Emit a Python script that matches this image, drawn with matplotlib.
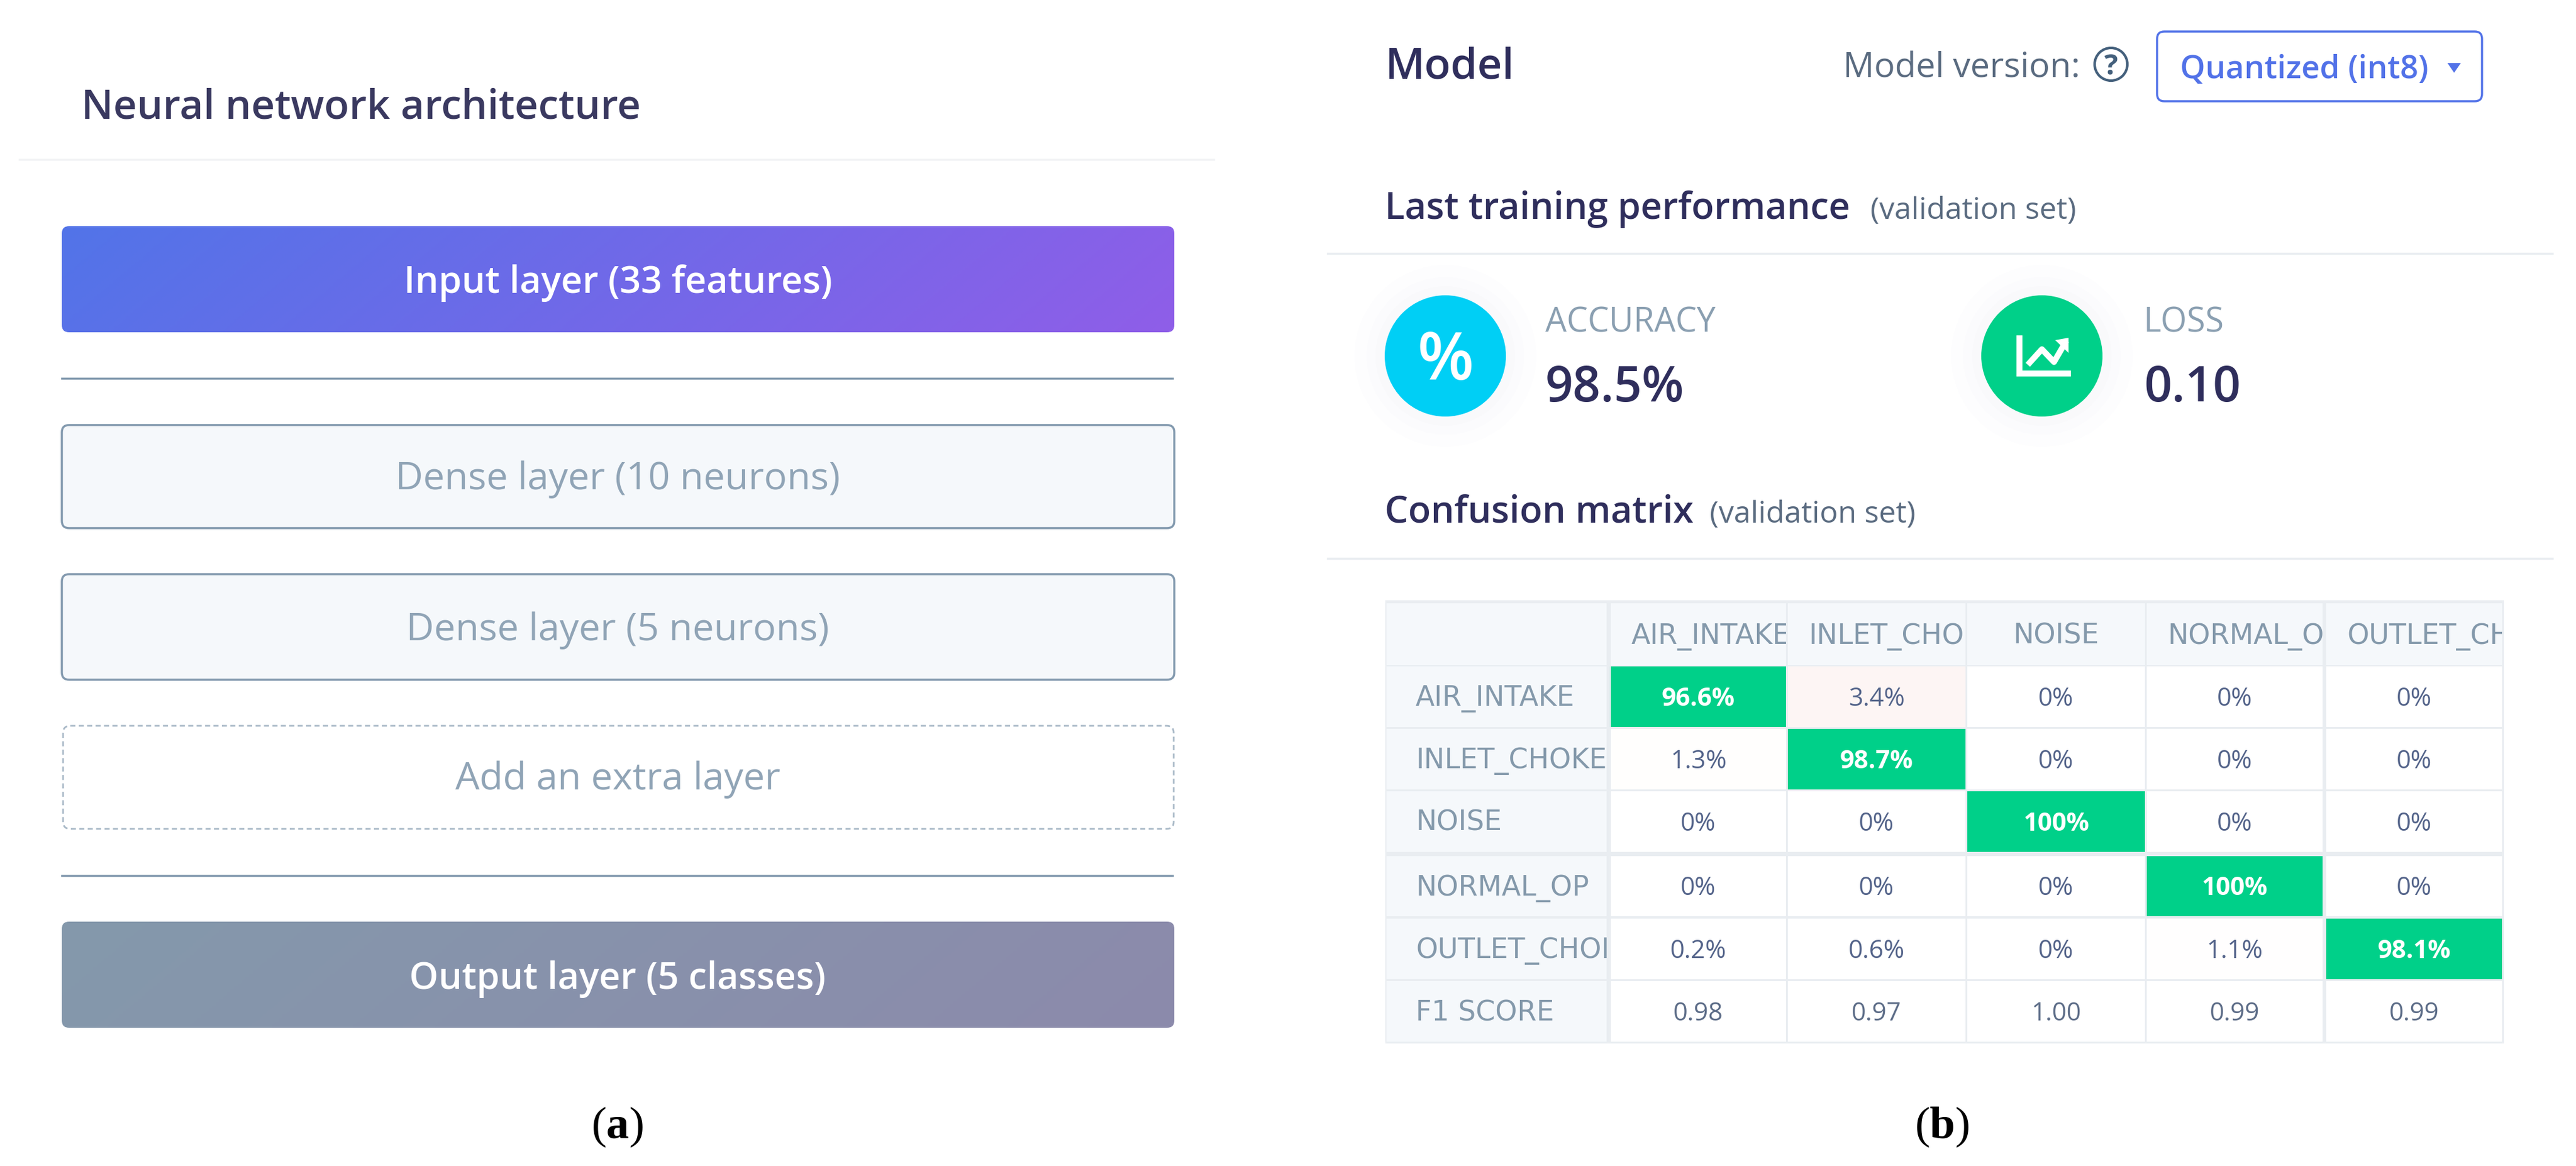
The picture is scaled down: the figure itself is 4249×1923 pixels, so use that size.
import numpy as np
import matplotlib
matplotlib.use("Agg")
import matplotlib.pyplot as plt
from matplotlib.colors import LinearSegmentedColormap
from matplotlib.patches import FancyBboxPatch, Circle, Rectangle, Polygon
from matplotlib.transforms import Bbox, TransformedBbox

# panel (a) labels
input_label = "Input layer (33 features)"
dense_labels = ["Dense layer (10 neurons)", "Dense layer (5 neurons)"]
extra_label = "Add an extra layer"
output_label = "Output layer (5 classes)"

# panel (b) metrics
accuracy = "98.5%"
loss = "0.10"

# confusion matrix
col_names = ["AIR_INTAKE", "INLET_CHOKE", "NOISE", "NORMAL_OP", "OUTLET_CHOKE"]
row_names = ["AIR_INTAKE", "INLET_CHOKE", "NOISE", "NORMAL_OP", "OUTLET_CHOKE"]
air_intake = [96.6, 3.4, 0, 0, 0]
inlet_choke = [1.3, 98.7, 0, 0, 0]
noise = [0, 0, 100, 0, 0]
normal_op = [0, 0, 0, 100, 0]
outlet_choke = [0.2, 0.6, 0, 1.1, 98.1]
f1_score = [0.98, 0.97, 1.00, 0.99, 0.99]

NAVY = "#2f2e5c"
SLATE = "#8299ae"
BLUE = "#5272e8"
GREEN = "#00d089"
GRID = "#e9edf1"
HEAD = "#f5f8fb"
SANS = "Open Sans"

plt.rcParams["font.family"] = [SANS, "DejaVu Sans"]
plt.rcParams["mathtext.fontset"] = "custom"
plt.rcParams["mathtext.rm"] = "Liberation Serif"
plt.rcParams["mathtext.bf"] = "Liberation Serif:bold"

fig = plt.figure(figsize=(42.49, 19.23), dpi=100)
ax = fig.add_axes([0, 0, 1, 1])


def box(x0, x1, y0, y1, **kw):
    p = FancyBboxPatch((x0, y0), x1 - x0, y1 - y0,
                       boxstyle="round,pad=0,rounding_size=12", **kw)
    ax.add_patch(p)
    return p


def gradient_box(x0, x1, y0, y1, c0, c1):
    p = box(x0, x1, y0, y1, fc="none", ec="none")
    xx, yy = np.meshgrid(np.linspace(0, 1, 300), np.linspace(0, 1, 60))
    cmap = LinearSegmentedColormap.from_list("g", [c0, c1])
    im = ax.imshow(xx * 0.9 + yy * 0.1, extent=(x0, x1, y1, y0), cmap=cmap,
                   vmin=0, vmax=1, aspect="auto", interpolation="bilinear")
    im.set_clip_path(p)


def label(x, y, s, size, color=NAVY, ha="left", weight="normal", **kw):
    return ax.text(x, y, s, fontsize=size, color=color, ha=ha, va="baseline",
                   weight=weight, **kw)


# ---- panel (a) ----
label(134, 195, "Neural network architecture", 48.5, weight="semibold", color="#3a3960")
ax.plot([32, 2002], [263, 263], color="#f2f3f5", lw=2.5)

gradient_box(102, 1937, 373, 548, "#5274e8", "#8f5ee8")
label(1019, 483, input_label, 44, color="white", ha="center", weight="semibold")
ax.plot([102, 1934], [624, 624], color=SLATE, lw=2.5)

for (y0, y1), base, s in zip([(701, 871), (947, 1121)], [807, 1056], dense_labels):
    box(102, 1937, y0, y1, fc=HEAD, ec=SLATE, lw=2.5)
    label(1019, base, s, 45.5, color="#90a4b6", ha="center")

box(104, 1936, 1197, 1367, fc="white", ec="#a9b9c7", lw=2, ls=(0, (3, 2)))
label(1019, 1302, extra_label, 45.5, color="#90a4b6", ha="center")
ax.plot([102, 1934], [1444, 1444], color=SLATE, lw=2.5)

gradient_box(102, 1937, 1520, 1695, "#8499ac", "#8c8aab")
label(1019, 1631, output_label, 44, color="white", ha="center", weight="semibold")

ax.text(1018, 1877, r"($\mathbf{a}$)", fontsize=54, color="black", ha="center",
        va="baseline", family="Liberation Serif")

# ---- panel (b) header ----
label(2284, 129, "Model", 51, weight="semibold")
label(3040, 127, "Model version:", 41, color="#5a6b80")
ax.add_patch(Circle((3482, 106), 27, fc="white", ec="#44607c", lw=3))
label(3482, 123, "?", 34, color="#44607c", ha="center", weight="bold")
box(3558, 4094, 52, 167, fc="white", ec=BLUE, lw=2.5)
label(3596, 129, "Quantized (int8)", 38, color=BLUE, weight="semibold")
ax.add_patch(Polygon([[4037, 104], [4059, 104], [4048, 120]], fc=BLUE, ec="none"))

label(2284, 361, "Last training performance", 44, weight="semibold")
label(3085, 361, "(validation set)", 36, color="#5a6b80")
ax.plot([2190, 4210], [418, 418], color=GRID, lw=2.5)

# metric badges, faint halo first
for cx, col in zip([2384, 3368], ["#00cff5", GREEN]):
    for r, a in zip([150, 130, 115], [0.006, 0.008, 0.012]):
        ax.add_patch(Circle((cx, 587), r, fc="#607080", ec="none", alpha=a))
    ax.add_patch(Circle((cx, 587), 100, fc=col, ec="none"))
label(2384, 626, "%", 78, color="white", ha="center", weight="semibold")

# chart glyph in the loss badge
icon_x = [3348, 3368, 3388, 3406]
icon_y = [598, 576, 597, 566]
ax.plot([3331, 3331, 3411], [558, 616, 616], color="white", lw=7, solid_joinstyle="miter")
ax.plot(icon_x, icon_y, color="white", lw=7)
ax.add_patch(Polygon([[3390, 561], [3412, 557], [3412, 582]], fc="white", ec="none"))

label(2549, 547, "ACCURACY", 40, color="#8a9fb1")
label(2549, 662, accuracy, 58, weight="semibold")
label(3536, 547, "LOSS", 40, color="#8a9fb1")
label(3536, 662, loss, 58, weight="semibold")

label(2284, 862, "Confusion matrix", 44, weight="semibold")
label(2820, 862, "(validation set)", 36, color="#5a6b80")
ax.plot([2190, 4210], [921, 921], color=GRID, lw=2.5)

# ---- confusion matrix table ----
col_edges = [(2657, 2946), (2949, 3242), (3245, 3538), (3541, 3831), (3837, 4127)]
row_edges = [(1099, 1199), (1202, 1302), (1305, 1405), (1412, 1511), (1515, 1615), (1618, 1718)]
head_y = (995, 1097)
name_x = (2287, 2650)
values = [air_intake, inlet_choke, noise, normal_op, outlet_choke]

ax.add_patch(Rectangle((2285, 990), 4130 - 2285, 1721 - 990, fc=GRID, ec="none"))
tint = np.array(matplotlib.colors.to_rgb("#fdf5f4"))


def cell(xr, yr, fc):
    ax.add_patch(Rectangle((xr[0], yr[0]), xr[1] - xr[0], yr[1] - yr[0], fc=fc, ec="none"))


def clipped(x, y, s, xr, yr, **kw):
    t = label(x, y, s, 33, color="#8499ab", family="DejaVu Sans", **kw)
    t.set_clip_box(TransformedBbox(Bbox([[xr[0], yr[0]], [xr[1], yr[1]]]), ax.transData))
    t.set_clip_on(True)


cell(name_x, head_y, HEAD)
for j, xr in enumerate(col_edges):
    cell(xr, head_y, HEAD)
    if col_names[j] == "NOISE":
        clipped(sum(xr) / 2, 1062, col_names[j], xr, head_y, ha="center")
    else:
        clipped(xr[0] + 34, 1062, col_names[j], xr, head_y)

for i, yr in enumerate(row_edges):
    base = sum(yr) / 2 + 15
    cell(name_x, yr, HEAD)
    name = row_names[i] if i < 5 else "F1 SCORE"
    clipped(2335, base, name, name_x, yr)
    for j, xr in enumerate(col_edges):
        cx = sum(xr) / 2
        if i == 5:
            cell(xr, yr, "white")
            label(cx, base, f"{f1_score[j]:.2f}", 30, color="#5d6d88", ha="center")
            continue
        v = values[i][j]
        if v > 50:
            cell(xr, yr, GREEN)
            label(cx, base, f"{v:g}%", 30, color="white", ha="center", weight="bold")
        else:
            w = min(v / 3.4, 1) ** 2
            cell(xr, yr, tuple(1 + (tint - 1) * w))
            label(cx, base, f"{v:g}%", 30, color="#54648a", ha="center")

ax.text(3203, 1877, r"($\mathbf{b}$)", fontsize=54, color="black", ha="center",
        va="baseline", family="Liberation Serif")

ax.set_xlim(0, 4249)
ax.set_ylim(1923, 0)
ax.axis("off")
fig.savefig("out.png", dpi=100, facecolor="white")
